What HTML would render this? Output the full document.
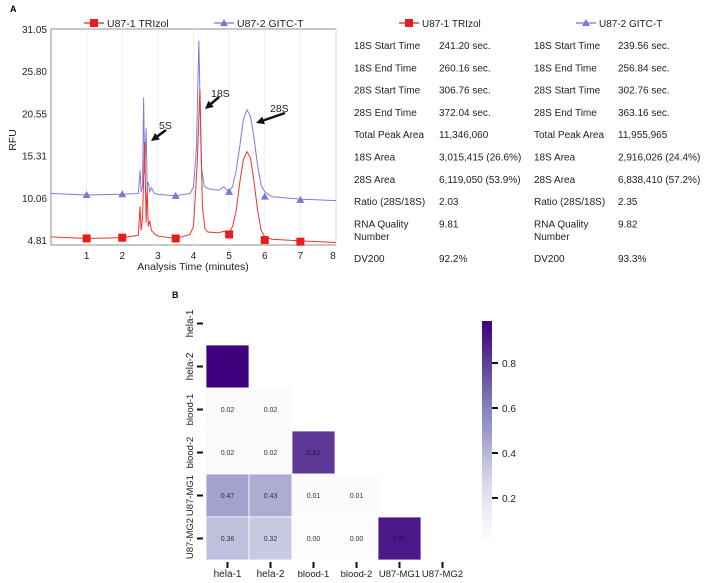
<!DOCTYPE html>
<html><head><meta charset="utf-8"><style>
body{margin:0;width:712px;height:583px;background:#fff;font-family:"Liberation Sans",sans-serif;overflow:hidden}
svg{position:absolute;left:0;top:0}
</style></head><body>
<svg id="s" width="712" height="583" xmlns="http://www.w3.org/2000/svg" font-family="Liberation Sans, sans-serif">
<text x="10" y="12" font-size="9" font-weight="bold">A</text>
<text x="172" y="298" font-size="9" font-weight="bold">B</text>
<g id="ep"></g>
<g id="tbl"></g>
<g id="hm"></g>
</svg>
<script>
// ---- electropherogram data ----
const xTicks=[1,2,3,4,5,6,7,8];
const yTicks=[4.81,10.06,15.31,20.55,25.80,31.05];
const blueT=[0,1,2,2.45,2.5,2.53,2.57,2.6,2.63,2.67,2.7,2.73,2.77,2.82,2.9,3.0,3.5,3.9,4.0,4.08,4.15,4.22,4.3,4.4,4.7,4.85,5.0,5.1,5.2,5.3,5.4,5.5,5.6,5.7,5.8,5.9,6.0,6.2,7,8];
const blueV=[10.6,10.4,10.5,10.6,13.5,10.8,11.5,22.5,13,18.7,11.5,12.0,10.8,11.3,10.6,10.5,10.3,10.6,11.4,16,29.6,14,11.5,11.2,11.0,11.4,10.8,11.5,13.5,16.5,19.8,21.0,20.2,17.5,14.0,11.6,10.8,10.2,9.9,9.7];
const redT=[0,1,2,2.45,2.5,2.53,2.57,2.6,2.63,2.67,2.7,2.73,2.77,2.82,2.9,3.0,3.5,3.9,4.0,4.1,4.18,4.25,4.32,4.4,4.7,4.85,5.0,5.1,5.2,5.3,5.4,5.5,5.6,5.7,5.8,5.9,6.0,6.2,7,8];
const redV=[5.2,5.0,5.1,5.4,9.0,6.0,7.5,12.5,17.0,7.0,11.5,6.5,7.2,6.0,5.6,5.3,5.0,5.5,6.5,14,23.5,9,6.2,5.8,5.7,5.9,5.8,6.5,8.5,12.0,14.8,15.8,15.0,12.0,8.5,6.0,5.2,4.9,4.7,4.5];
const markT=[1,2,3.5,5,6,7];
const blueMark=[10.4,10.5,10.3,10.8,10.2,9.8];
const redMark=[5.0,5.1,5.0,5.5,4.8,4.6];
// ---- table ----
const rowLabels=["18S Start Time","18S End Time","28S Start Time","28S End Time","Total Peak Area","18S Area","28S Area","Ratio (28S/18S)","RNA Quality|Number","DV200"];
const valsA=["241.20 sec.","260.16 sec.","306.76 sec.","372.04 sec.","11,346,060","3,015,415 (26.6%)","6,119,050 (53.9%)","2.03","9.81","92.2%"];
const valsB=["239.56 sec.","256.84 sec.","302.76 sec.","363.16 sec.","11,955,965","2,916,026 (24.4%)","6,838,410 (57.2%)","2.35","9.82","93.3%"];
// ---- heatmap ----
const hmLabels=["hela-1","hela-2","blood-1","blood-2","U87-MG1","U87-MG2"];
const hmValues=[[],[0.99],[0.02,0.02],[0.02,0.02,0.82],[0.47,0.43,0.01,0.01],[0.36,0.32,0.00,0.00,0.91]];
const cbTicks=[0.2,0.4,0.6,0.8];

const NS="http://www.w3.org/2000/svg";
function mk(p,tag,a){const e=document.createElementNS(NS,tag);for(const k in a)e.setAttribute(k,a[k]);p.appendChild(e);return e;}
const ep=document.getElementById('ep');
const X0=51,X1=336,Y0=29,Y1=245;
const sx=t=>X0+t*(X1-X0)/8;
const sy=v=>240-(v-4.81)*(240-29)/(31.05-4.81);
let r=mk(ep,'rect',{x:X0,y:Y0,width:X1-X0,height:Y1-Y0,fill:'#fff',stroke:'#777','stroke-width':0.8});

xTicks.forEach(t=>{
 let l=mk(ep,'line',{x1:sx(t),x2:sx(t),y1:Y0,y2:Y1,stroke:'#ececec','stroke-width':0.8});
 
 let tx=mk(ep,'text',{x:sx(t)-(t==8?3:0),y:259,'font-size':10,'text-anchor':'middle',fill:'#222'});tx.textContent=t;
 
});
yTicks.forEach(v=>{
 let tx=mk(ep,'text',{x:47,y:sy(v)+4,'font-size':10,'text-anchor':'end',fill:'#222'});tx.textContent=v.toFixed(2);
 
});
let xt=mk(ep,'text',{x:193,y:270,'font-size':10.5,'text-anchor':'middle',fill:'#222'});xt.textContent='Analysis Time (minutes)';

let yt=mk(ep,'text',{x:16,y:140,'font-size':10.5,'text-anchor':'middle',fill:'#222',transform:'rotate(-90 16 140)'});yt.textContent='RFU';

function line(T,V,col,name){let p=mk(ep,'polyline',{points:T.map((t,i)=>sx(t)+','+sy(V[i])).join(' '),fill:'none',stroke:col,'stroke-width':1});
 }
line(blueT,blueV,'#7b7be0','line-u87-2-gitc');
line(redT,redV,'#ee3333','line-u87-1-trizol');
markT.forEach((t,i)=>{
 let m=mk(ep,'path',{d:`M${sx(t)-4},${sy(blueMark[i])+3}L${sx(t)+4},${sy(blueMark[i])+3}L${sx(t)},${sy(blueMark[i])-4}Z`,fill:'#7777dd'});
 
 let q=mk(ep,'rect',{x:sx(t)-4,y:sy(redMark[i])-4,width:8,height:8,fill:'#e81c1c'});
 
});
function leg(g,x,y,col,tri,label,fs){let l=mk(g,'line',{x1:x,x2:x+20,y1:y,y2:y,stroke:col,'stroke-width':1.2});
 
 let m=tri?mk(g,'path',{d:`M${x+6},${y+3}L${x+14},${y+3}L${x+10},${y-4}Z`,fill:col}):mk(g,'rect',{x:x+6,y:y-4,width:8,height:8,fill:col});
 
 let t=mk(g,'text',{x:x+23,y:y+4,'font-size':fs,fill:'#222'});t.textContent=label;
 }
leg(ep,84,23,'#e81c1c',false,'U87-1 TRIzol',10.5);
leg(ep,214,23,'#7777dd',true,'U87-2 GITC-T',10.5);
function arrow(x1,y1,x2,y2,lx,ly,lab){let a=mk(ep,'line',{x1,y1,x2:x2+ (x1-x2)*0.25,y2:y2+(y1-y2)*0.25,stroke:'#111','stroke-width':2.5});
 
 const dx=x1-x2,dy=y1-y2,L=Math.hypot(dx,dy),ux=dx/L,uy=dy/L;
 let h=mk(ep,'path',{d:`M${x2},${y2}L${x2+ux*8-uy*4},${y2+uy*8+ux*4}L${x2+ux*8+uy*4},${y2+uy*8-ux*4}Z`,fill:'#111'});
 
 let t=mk(ep,'text',{x:lx,y:ly,'font-size':10.5,fill:'#222'});t.textContent=lab;
 }
arrow(166,130,151,141,159,129,'5S');
arrow(219,97,205,109,211,97,'18S');
arrow(285,113,256,123,270,112,'28S');
// table
const tb=document.getElementById('tbl');
leg(tb,399,23,'#e81c1c',false,'U87-1 TRIzol',10);
leg(tb,576,23,'#7777dd',true,'U87-2 GITC-T',10);
rowLabels.forEach((lab,i)=>{
 const y=i<9?49+i*22.3:262;
 [[354,lab],[439,valsA[i]],[534,lab],[618,valsB[i]]].forEach(([x,s])=>{
  s.split('|').forEach((part,j)=>{let t=mk(tb,'text',{x,y:y+j*12.5,'font-size':10,fill:'#222'});t.textContent=part;
   });
 });
});
// heatmap
const hm=document.getElementById('hm');
const stops=["#fcfbfd","#efedf5","#dadaeb","#bcbddc","#9e9ac8","#807dba","#6a51a3","#54278f","#3f007d"];
const VMIN=0,VMAX=0.99;
function hex(c){return [1,3,5].map(i=>parseInt(c.substr(i,2),16));}
function cmap(v){let f=Math.max(0,Math.min(1,(v-VMIN)/(VMAX-VMIN)))*8;let i=Math.min(7,Math.floor(f)),r=f-i;
 const a=hex(stops[i]),b=hex(stops[i+1]);return 'rgb('+a.map((x,k)=>Math.round(x+(b[k]-x)*r)).join(',')+')';}
const CX=206,CY=302,CS=43;
hmValues.forEach((row,i)=>row.forEach((v,j)=>{
 let c=mk(hm,'rect',{x:CX+j*CS,y:CY+i*CS,width:CS,height:CS,fill:cmap(v),stroke:'#fff','stroke-width':0.8});
 
 let t=mk(hm,'text',{x:CX+j*CS+CS/2,y:CY+i*CS+CS/2+2.5,'font-size':7,'text-anchor':'middle',fill:v>0.6?'#2a0a55':'#333'});t.textContent=v.toFixed(2);
 
}));
hmLabels.forEach((lab,i)=>{
 const cy=CY+i*CS+CS/2;
 let tk=mk(hm,'line',{x1:CX-9,x2:CX-3,y1:cy,y2:cy,stroke:'#111','stroke-width':2});
 
 let t=mk(hm,'text',{x:193,y:cy,'font-size':lab.length>6?9.5:10,'text-anchor':'middle',fill:'#222',transform:`rotate(-90 193 ${cy})`});
 t.textContent=lab;
 
 const cx=CX+i*CS+CS/2;
 let tk2=mk(hm,'line',{x1:cx,x2:cx,y1:CY+6*CS+2,y2:CY+6*CS+8,stroke:'#111','stroke-width':2});
 
 let t2=mk(hm,'text',{x:cx,y:577,'font-size':lab.length>6?9.5:10,'text-anchor':'middle',fill:'#222'});t2.textContent=lab;
 
});
const defs=mk(hm,'defs',{});const gr=mk(defs,'linearGradient',{id:'cb',x1:0,y1:1,x2:0,y2:0});
stops.forEach((c,i)=>mk(gr,'stop',{offset:i/8,'stop-color':c}));
const CBT=321,CBB=540,cbY=v=>CBB-(v-0.013)/(0.987-0.013)*(CBB-CBT);
let cb=mk(hm,'rect',{x:482,y:CBT,width:10,height:CBB-CBT,fill:'url(#cb)'});

cbTicks.forEach(v=>{let l=mk(hm,'line',{x1:492,x2:498,y1:cbY(v),y2:cbY(v),stroke:'#111','stroke-width':2});
 
 let t=mk(hm,'text',{x:502,y:cbY(v)+4,'font-size':10,fill:'#222'});t.textContent=v.toFixed(1);
 });
</script>
</body></html>
